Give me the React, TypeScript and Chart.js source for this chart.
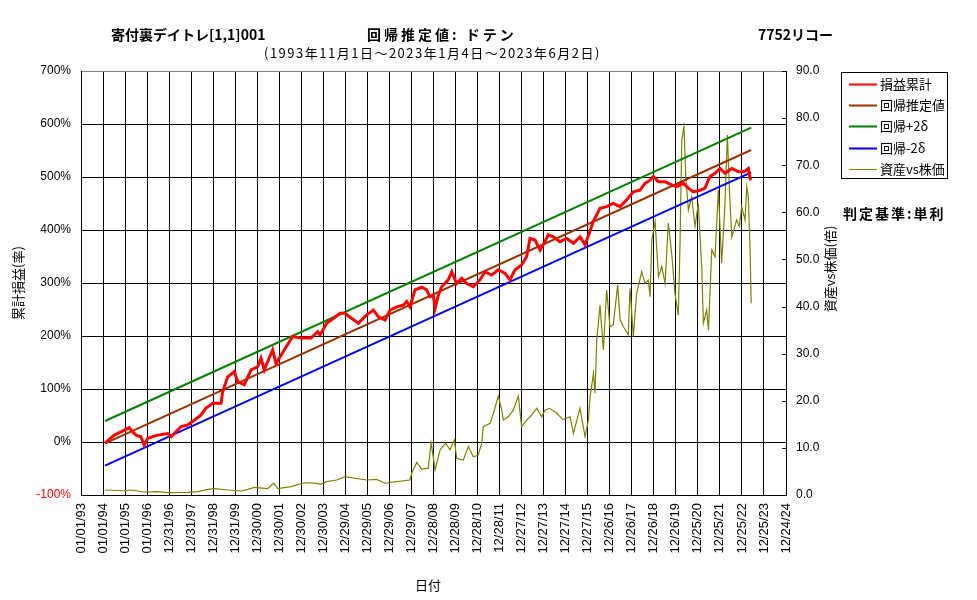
import React, { useEffect, useRef } from "react";
import { Chart, registerables } from "chart.js";
Chart.register(...registerables);

// ---------- text ----------
const mainTitle = "寄付裏デイトレ[1,1]001";
const methodTitle = "回帰推定値: ドテン";
const stockTitle = "7752リコー";
const periodTitle = "(1993年11月1日～2023年1月4日～2023年6月2日)";
const judgeText = "判定基準:単利";
const leftAxisTitle = "累計損益(率)";
const rightAxisTitle = "資産vs株価(倍)";
const xAxisTitle = "日付";
const seriesNames = ["損益累計", "回帰推定値", "回帰+2δ", "回帰-2δ", "資産vs株価"];
const seriesColors = ["#ff0000", "#993300", "#008000", "#0000ff", "#808000"];

// ---------- axes ----------
const axisStartYear = 1993;
const xTickLabels = [
  "01/01/93", "01/01/94", "01/01/95", "01/01/96", "12/31/96", "12/31/97", "12/31/98", "12/31/99",
  "12/30/00", "12/30/01", "12/30/02", "12/30/03", "12/29/04", "12/29/05", "12/29/06", "12/29/07",
  "12/28/08", "12/28/09", "12/28/10", "12/28/11", "12/27/12", "12/27/13", "12/27/14", "12/27/15",
  "12/26/16", "12/26/17", "12/26/18", "12/26/19", "12/25/20", "12/25/21", "12/25/22", "12/25/23",
  "12/24/24",
];
const leftMin = -100, leftMax = 700, leftStep = 100;
const rightMin = 0, rightMax = 90, rightStep = 10;

// ---------- data (decimal year, value) ----------
const profitYears = [
  1994.09, 1994.51, 1994.82, 1995.19, 1995.35, 1995.5, 1995.72, 1995.87, 1996.03, 1996.48, 1996.94,
  1997.09, 1997.54, 1997.84, 1998.14, 1998.45, 1998.67, 1998.98, 1999.36, 1999.43, 1999.66, 1999.96,
  2000.11, 2000.41, 2000.72, 2001.02, 2001.17, 2001.32, 2001.7, 2001.85, 2002.23, 2002.61, 2002.99,
  2003.44, 2003.74, 2003.85, 2004.15, 2004.45, 2004.76, 2004.98, 2005.29, 2005.59, 2005.97, 2006.27,
  2006.5, 2006.8, 2007.03, 2007.33, 2007.63, 2007.78, 2007.93, 2008.16, 2008.47, 2008.69, 2008.84,
  2008.99, 2009.07, 2009.22, 2009.37, 2009.67, 2009.83, 2010.05, 2010.28, 2010.51, 2010.81, 2011.11,
  2011.34, 2011.64, 2011.94, 2012.25, 2012.47, 2012.7, 2013.0, 2013.23, 2013.38, 2013.61, 2013.84,
  2014.06, 2014.21, 2014.44, 2014.74, 2015.05, 2015.35, 2015.65, 2015.88, 2016.07, 2016.25, 2016.56,
  2016.86, 2017.16, 2017.47, 2017.77, 2018.07, 2018.37, 2018.6, 2018.83, 2018.98, 2019.21, 2019.51,
  2019.81, 2020.04, 2020.34, 2020.57, 2020.79, 2021.1, 2021.32, 2021.55, 2021.78, 2022.01, 2022.23,
  2022.54, 2022.84, 2023.1, 2023.29, 2023.37, 2023.42,
];
const profitValues = [
  -2, 13, 19, 27, 19, 13, 10, -6, 7, 13, 16,
  10, 29, 32, 41, 51, 64, 73, 73, 95, 123, 133,
  114, 108, 136, 142, 158, 136, 174, 148, 174, 199, 196,
  196, 208, 202, 224, 233, 243, 243, 233, 224, 240, 249,
  236, 230, 249, 255, 258, 265, 255, 287, 292, 287, 274,
  277, 252, 277, 293, 306, 321, 299, 309, 299, 293, 306,
  321, 315, 325, 318, 306, 325, 334, 350, 384, 381, 362,
  378, 391, 387, 378, 384, 375, 387, 372, 394, 416, 441,
  444, 450, 444, 457, 472, 475, 488, 494, 501, 491, 491,
  485, 482, 488, 479, 472, 475, 479, 501, 507, 516, 507,
  516, 510, 510, 516, 497, 494,
];

const regressionYears = [1994.09, 2023.42];
const regressionValues = [-2.5, 551];
const upperBandValues = [39.6, 593];
const lowerBandValues = [-44.7, 508.8];

const ratioYears = [
  1994.09, 1994.97, 1995.27, 1995.87, 1996.48, 1996.94, 1997.84, 1998.3, 1998.75, 1999.05, 1999.66,
  2000.26, 2000.57, 2000.87, 2001.47, 2001.75, 2001.93, 2002.53, 2003.14, 2003.59, 2003.89, 2004.15,
  2004.61, 2004.98, 2005.51, 2005.97, 2006.42, 2006.8, 2007.33, 2007.93, 2008.01, 2008.24, 2008.47,
  2008.76, 2008.89, 2008.99, 2009.07, 2009.3, 2009.55, 2009.75, 2009.95, 2010.05, 2010.35, 2010.58,
  2010.81, 2011.03, 2011.19, 2011.26, 2011.57, 2011.72, 2011.94, 2012.1, 2012.17, 2012.4, 2012.62,
  2012.85, 2013.0, 2013.23, 2013.38, 2013.69, 2013.91, 2014.06, 2014.26, 2014.56, 2014.88, 2015.2,
  2015.35, 2015.65, 2015.88, 2016.03, 2016.11, 2016.26, 2016.33, 2016.41, 2016.56, 2016.71, 2016.86,
  2017.01, 2017.16, 2017.36, 2017.47, 2017.62, 2017.84, 2017.92, 2018.07, 2018.22, 2018.45, 2018.6,
  2018.75, 2018.83, 2018.91, 2019.06, 2019.21, 2019.36, 2019.51, 2019.66, 2019.81, 2019.96, 2020.11,
  2020.19, 2020.27, 2020.37, 2020.45, 2020.57, 2020.72, 2020.87, 2021.02, 2021.18, 2021.25, 2021.4,
  2021.48, 2021.63, 2021.78, 2021.93, 2022.08, 2022.23, 2022.34, 2022.43, 2022.54, 2022.76, 2022.88,
  2022.99, 2023.14, 2023.22, 2023.29, 2023.37, 2023.42,
];
const ratioValues = [
  1.06, 0.9, 1.06, 0.64, 0.7, 0.5, 0.55, 0.7, 1.2, 1.35, 1.06,
  0.85, 1.2, 1.63, 1.35, 2.5, 1.35, 1.77, 2.6, 2.5, 2.3, 2.83,
  3.18, 3.9, 3.5, 3.18, 3.3, 2.5, 2.83, 3.18, 4.6, 6.9, 5.5,
  5.7, 11.0, 8.1, 5.3, 9.6, 11.0, 9.6, 11.7, 7.8, 7.4, 10.3,
  8.1, 8.5, 11.0, 14.5, 15.2, 17.3, 21.0, 18.0, 15.9, 16.6, 18.0,
  21.0, 14.5, 15.9, 16.6, 18.4, 16.6, 18.0, 18.4, 17.5, 16.0, 16.6,
  13.1, 18.4, 12.4, 15.9, 20.9, 25.8, 21.6, 32.9, 40.3, 30.8, 43.5,
  35.7, 36.1, 44.6, 37.2, 35.7, 34.0, 43.9, 33.6, 42.8, 47.4, 44.9,
  45.6, 42.1, 54.1, 58.0, 46.3, 48.5, 44.9, 57.7, 51.3, 42.8, 38.2,
  53.4, 75.4, 78.2, 67.6, 60.5, 63.3, 57.0, 61.9, 47.8, 36.5, 39.3,
  35.0, 52.0, 50.6, 64.8, 49.2, 61.9, 76.4, 64.8, 54.8, 58.4, 57.0,
  61.2, 58.4, 65.5, 63.3, 52.0, 40.7,
];

const toPoints = (years: number[], values: number[]) =>
  years.map((yr, i) => ({ x: yr - axisStartYear, y: values[i] }));

const FONT_JP = '"Noto Sans CJK JP", "Noto Sans", sans-serif';
const FONT_NUM = '"Liberation Sans", Arial, sans-serif';

const overlayPlugin = {
  id: "overlay",
  afterDraw(chart: any) {
    const { ctx, chartArea, scales } = chart;
    ctx.save();
    // inward ticks on the right axis
    ctx.strokeStyle = "#000";
    ctx.lineWidth = 1;
    for (const t of scales.y1.ticks) {
      const y = Math.round(scales.y1.getPixelForValue(t.value)) + 0.5;
      ctx.beginPath();
      ctx.moveTo(chartArea.right - 4, y);
      ctx.lineTo(chartArea.right, y);
      ctx.stroke();
    }
    // titles
    ctx.fillStyle = "#000";
    ctx.textBaseline = "middle";
    ctx.textAlign = "left";
    ctx.font = `bold 14px ${FONT_JP}`;
    ctx.fillText(mainTitle, 111, 35);
    ctx.fillText(stockTitle, 758, 35);
    ctx.letterSpacing = "3px";
    ctx.fillText(methodTitle, 367, 35);
    ctx.letterSpacing = "2px";
    ctx.fillText(judgeText, 843, 214);
    ctx.letterSpacing = "1.5px";
    ctx.font = `13px ${FONT_JP}`;
    ctx.fillText(periodTitle, 264, 53);
    ctx.letterSpacing = "0px";
    ctx.textAlign = "center";
    ctx.fillText(xAxisTitle, 428, 585);
    // rotated axis titles
    ctx.save();
    ctx.translate(18, 283);
    ctx.rotate(-Math.PI / 2);
    ctx.fillText(leftAxisTitle, 0, 0);
    ctx.restore();
    ctx.save();
    ctx.translate(830, 269);
    ctx.rotate(-Math.PI / 2);
    ctx.fillText(rightAxisTitle, 0, 0);
    ctx.restore();
    // legend
    const lx = 841.5, ly = 72.5, lw = 106, lh = 106;
    ctx.fillStyle = "#fff";
    ctx.fillRect(lx, ly, lw, lh);
    ctx.strokeStyle = "#000";
    ctx.lineWidth = 1;
    ctx.strokeRect(lx, ly, lw, lh);
    ctx.textAlign = "left";
    ctx.fillStyle = "#000";
    ctx.font = `13px ${FONT_JP}`;
    seriesNames.forEach((name, i) => {
      const y = 84 + i * 21.2;
      ctx.strokeStyle = seriesColors[i];
      ctx.lineWidth = i === 4 ? 1 : 2;
      ctx.beginPath();
      ctx.moveTo(849, Math.round(y) + 0.5);
      ctx.lineTo(877, Math.round(y) + 0.5);
      ctx.stroke();
      ctx.fillText(name, 880, y);
    });
    ctx.restore();
  },
};

export default function App() {
  const canvasRef = useRef<HTMLCanvasElement | null>(null);
  useEffect(() => {
    const canvas = canvasRef.current;
    if (!canvas) return;
    const ds = (label: string, data: any[], color: string, width: number, axis: string) => ({
      label,
      data,
      borderColor: color,
      backgroundColor: color,
      borderWidth: width,
      pointRadius: 0,
      tension: 0,
      fill: false,
      yAxisID: axis,
    });
    const chart = new Chart(canvas, {
      type: "line",
      data: {
        datasets: [
          ds(seriesNames[0], toPoints(profitYears, profitValues), seriesColors[0], 3, "y"),
          ds(seriesNames[1], toPoints(regressionYears, regressionValues), seriesColors[1], 2, "y"),
          ds(seriesNames[2], toPoints(regressionYears, upperBandValues), seriesColors[2], 2, "y"),
          ds(seriesNames[3], toPoints(regressionYears, lowerBandValues), seriesColors[3], 2, "y"),
          ds(seriesNames[4], toPoints(ratioYears, ratioValues), seriesColors[4], 1.2, "y1"),
        ],
      },
      options: {
        animation: false,
        responsive: false,
        maintainAspectRatio: false,
        layout: { padding: { left: 0, right: 0, top: 71, bottom: 0 } },
        plugins: { legend: { display: false }, tooltip: { enabled: false }, title: { display: false } },
        scales: {
          x: {
            type: "linear",
            min: 0,
            max: xTickLabels.length - 1,
            afterFit: (s: any) => { s.height = 105; },
            afterBuildTicks: (s: any) => {
              s.ticks = xTickLabels.map((_, i) => ({ value: i }));
            },
            ticks: {
              autoSkip: false,
              maxRotation: 90,
              minRotation: 90,
              padding: 8,
              color: "#000",
              font: { family: FONT_NUM, size: 13 },
              callback: (v: any) => xTickLabels[Math.round(v)] ?? "",
            },
            grid: { color: "#000", lineWidth: 1, drawTicks: false },
            border: { color: "#000" },
          },
          y: {
            position: "left",
            min: leftMin,
            max: leftMax,
            afterFit: (s: any) => { s.width = 81; },
            ticks: {
              stepSize: leftStep,
              padding: 10,
              color: (c: any) => (c.tick && c.tick.value === leftMin ? "#ff0000" : "#000"),
              font: { family: FONT_NUM, size: 12 },
              callback: (v: any) => `${v}%`,
            },
            grid: {
              color: (c: any) => (c.tick && c.tick.value === leftMax ? "#808080" : "#000"),
              lineWidth: 1,
              drawTicks: false,
            },
            border: { color: "#000" },
          },
          y1: {
            position: "right",
            min: rightMin,
            max: rightMax,
            afterFit: (s: any) => { s.width = 191; },
            ticks: {
              stepSize: rightStep,
              padding: 10,
              color: "#000",
              font: { family: FONT_NUM, size: 12 },
              callback: (v: any) => Number(v).toFixed(1),
            },
            grid: { drawOnChartArea: false, drawTicks: false },
            border: { color: "#000" },
          },
        },
      },
      plugins: [overlayPlugin],
    } as any);
    return () => chart.destroy();
  }, []);
  return (
    <div style={{ position: "fixed", left: 0, top: 0, width: 977, height: 600, background: "#fff" }}>
      <canvas ref={canvasRef} width={977} height={600} />
    </div>
  );
}
